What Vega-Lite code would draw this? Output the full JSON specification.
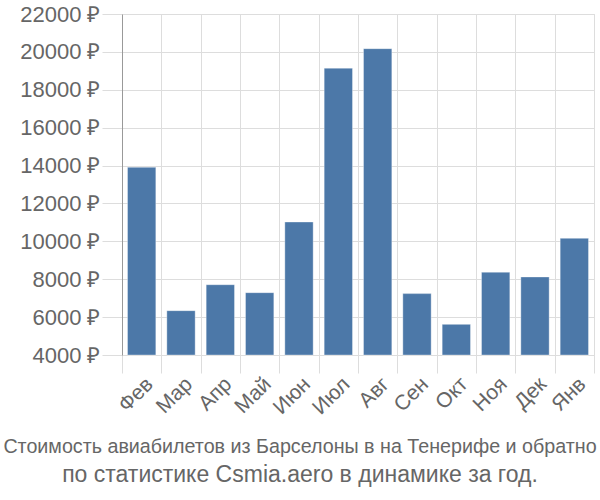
{
  "$schema": "https://vega.github.io/schema/vega-lite/v6.json",
  "width": 472,
  "height": 341,
  "autosize": "none",
  "padding": {"left": 122, "top": 14, "right": 6, "bottom": 145},
  "background": "white",
  "config": {
    "view": {"stroke": "#dddddd", "strokeWidth": 1},
    "font": "Liberation Sans",
    "axis": {"labelFontSize": 22, "labelColor": "#666666", "labelFont": "Liberation Sans"}
  },
  "title": {
    "text": "Стоимость авиабилетов из Барселоны в на Тенерифе и обратно",
    "subtitle": "по статистике Csmia.aero в динамике за год.",
    "orient": "bottom",
    "anchor": "middle",
    "frame": "group",
    "dx": -58,
    "offset": 19,
    "font": "Liberation Sans",
    "fontSize": 19.7,
    "fontWeight": "normal",
    "color": "#666666",
    "subtitleFont": "Liberation Sans",
    "subtitleFontSize": 23,
    "subtitleColor": "#666666",
    "subtitlePadding": 7
  },
  "data": {
    "values": [
      {"month": "Фев", "price": 13910},
      {"month": "Мар", "price": 6340},
      {"month": "Апр", "price": 7710},
      {"month": "Май", "price": 7290},
      {"month": "Июн", "price": 11020},
      {"month": "Июл", "price": 19140},
      {"month": "Авг", "price": 20170},
      {"month": "Сен", "price": 7240},
      {"month": "Окт", "price": 5620},
      {"month": "Ноя", "price": 8370},
      {"month": "Дек", "price": 8120},
      {"month": "Янв", "price": 10160}
    ]
  },
  "mark": {"type": "bar", "width": {"band": 0.72}, "color": "#4c78a8", "stroke": "#ffffff", "strokeOpacity": 0.35, "strokeWidth": 1},
  "encoding": {
    "x": {
      "field": "month",
      "type": "nominal",
      "sort": null,
      "scale": {"paddingInner": 0, "paddingOuter": 0},
      "axis": {
        "title": null,
        "tickBand": "extent",
        "grid": true,
        "gridColor": "#dddddd",
        "tickColor": "#dddddd",
        "tickSize": 18,
        "domain": false,
        "labelAngle": -45,
        "labelAlign": "right",
        "labelBaseline": "top",
        "labelPadding": 0,
        "labelFontSize": 21,
        "labelColor": "#666666"
      }
    },
    "y": {
      "field": "price",
      "type": "quantitative",
      "scale": {"domain": [4000, 22000], "zero": false, "nice": false},
      "axis": {
        "title": null,
        "values": [4000, 6000, 8000, 10000, 12000, 14000, 16000, 18000, 20000, 22000],
        "labelExpr": "format(datum.value, 'd') + ' ₽'",
        "grid": true,
        "gridColor": "#dddddd",
        "tickColor": "#dddddd",
        "tickSize": 20,
        "labelPadding": 2,
        "labelFontSize": 22,
        "labelColor": "#666666",
        "domainColor": "#999999"
      }
    },
    "y2": {"datum": 4000}
  }
}
